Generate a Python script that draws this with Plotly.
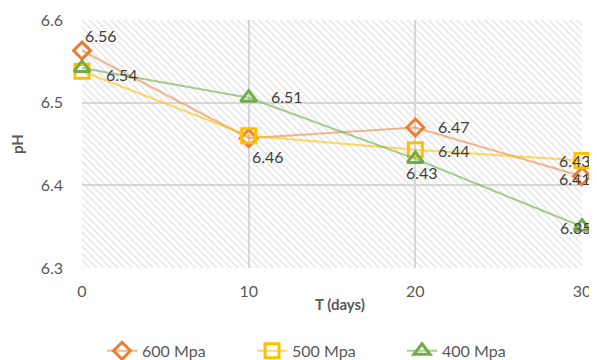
import plotly.graph_objects as go

days = [0, 10, 20, 30]
ph_600 = [6.563, 6.457, 6.470, 6.411]
ph_500 = [6.538, 6.460, 6.443, 6.430]
ph_400 = [6.542, 6.506, 6.432, 6.350]
labels_600 = ["6.56", "", "6.47", "6.41"]
labels_500 = ["6.54", "6.46", "6.44", "6.43"]
labels_400 = ["", "6.51", "6.43", "6.35"]
series_names = ["600 Mpa", "500 Mpa", "400 Mpa"]
x_ticks = [0, 10, 20, 30]
y_ticks = [6.3, 6.4, 6.5, 6.6]
y_range = [6.3, 6.6]
x_title = "T (days)"
y_title = "pH"

FONT = "Lato"
GREY = "#595959"
fig = go.Figure()

# hatched plot background
fig.add_trace(go.Scatter(
    x=[x_ticks[0], x_ticks[-1], x_ticks[-1], x_ticks[0], x_ticks[0]],
    y=[y_range[0], y_range[0], y_range[1], y_range[1], y_range[0]],
    mode="lines", line=dict(width=0), fill="toself",
    fillcolor="rgba(0,0,0,0)",
    fillpattern=dict(shape="\\", fgcolor="#cbcbcb", bgcolor="rgba(0,0,0,0)",
                     size=5, solidity=0.3),
    showlegend=False, hoverinfo="skip"))

styles = [
    (ph_600, "#ED7D31", "rgba(237,125,49,0.55)", "diamond-open", 13),
    (ph_500, "#FFC000", "rgba(255,192,0,0.6)", "square-open", 14),
    (ph_400, "#70AD47", "rgba(112,173,71,0.6)", "triangle-up-open", 14),
]
for (vals, col, lcol, sym, sz), name in zip(styles, series_names):
    fig.add_trace(go.Scatter(
        x=days, y=vals, name=name, mode="lines+markers", cliponaxis=False,
        line=dict(color=lcol, width=2),
        marker=dict(symbol=sym, size=sz, color=col, line=dict(color=col, width=3)),
    ))

def add_labels(vals, texts, offsets):
    for xv, yv, t, (dx, dy) in zip(days, vals, texts, offsets):
        if not t:
            continue
        fig.add_annotation(x=xv, y=yv, text=t, showarrow=False,
                           xanchor="center", yanchor="middle",
                           xshift=dx, yshift=dy,
                           font=dict(family=FONT, size=16, color="#404040"))

add_labels(ph_600, labels_600, [(19, 15), (0, 0), (39, 1), (-7, -2)])
add_labels(ph_500, labels_500, [(40, -3), (19, -21), (39, -1), (-7, 0)])
add_labels(ph_400, labels_400, [(0, 0), (38, 1), (7, -14), (-6, -1)])

# axis titles
fig.add_annotation(xref="paper", yref="paper", x=0.516, y=-0.147,
                   text="<b>" + x_title + "</b>", showarrow=False,
                   xanchor="center", yanchor="middle",
                   font=dict(family=FONT, size=15, color=GREY))
fig.add_annotation(xref="paper", yref="paper", x=-0.13, y=0.5,
                   text="<b>" + y_title + "</b>", showarrow=False, textangle=-90,
                   xanchor="center", yanchor="middle",
                   font=dict(family=FONT, size=15, color=GREY))

# the page has an 8px body margin, so the figure is smaller and shifted
fig.update_layout(
    width=589, height=352,
    margin=dict(l=74, r=15, t=12, b=92),
    paper_bgcolor="white", plot_bgcolor="white",
    font=dict(family=FONT, size=13, color=GREY),
    legend=dict(orientation="h", xref="paper", x=0.04, xanchor="left",
                yref="container", y=0.026, yanchor="middle",
                entrywidth=105, entrywidthmode="pixels",
                font=dict(family=FONT, size=16, color=GREY),
                tracegroupgap=0),
    xaxis=dict(range=[x_ticks[0], x_ticks[-1]], tickvals=x_ticks, showgrid=True,
               gridcolor="#d9d9d9", gridwidth=2, zeroline=False, showline=False,
               ticks="", automargin=False, ticklabelstandoff=12,
               tickfont=dict(size=16, color=GREY)),
    yaxis=dict(range=y_range, tickvals=y_ticks, tickformat=".1f", showgrid=True,
               gridcolor="#d9d9d9", gridwidth=2, zeroline=False, showline=False,
               ticks="", automargin=False, ticklabelstandoff=18,
               tickfont=dict(size=16, color=GREY)),
)

fig.write_html("out.html")
